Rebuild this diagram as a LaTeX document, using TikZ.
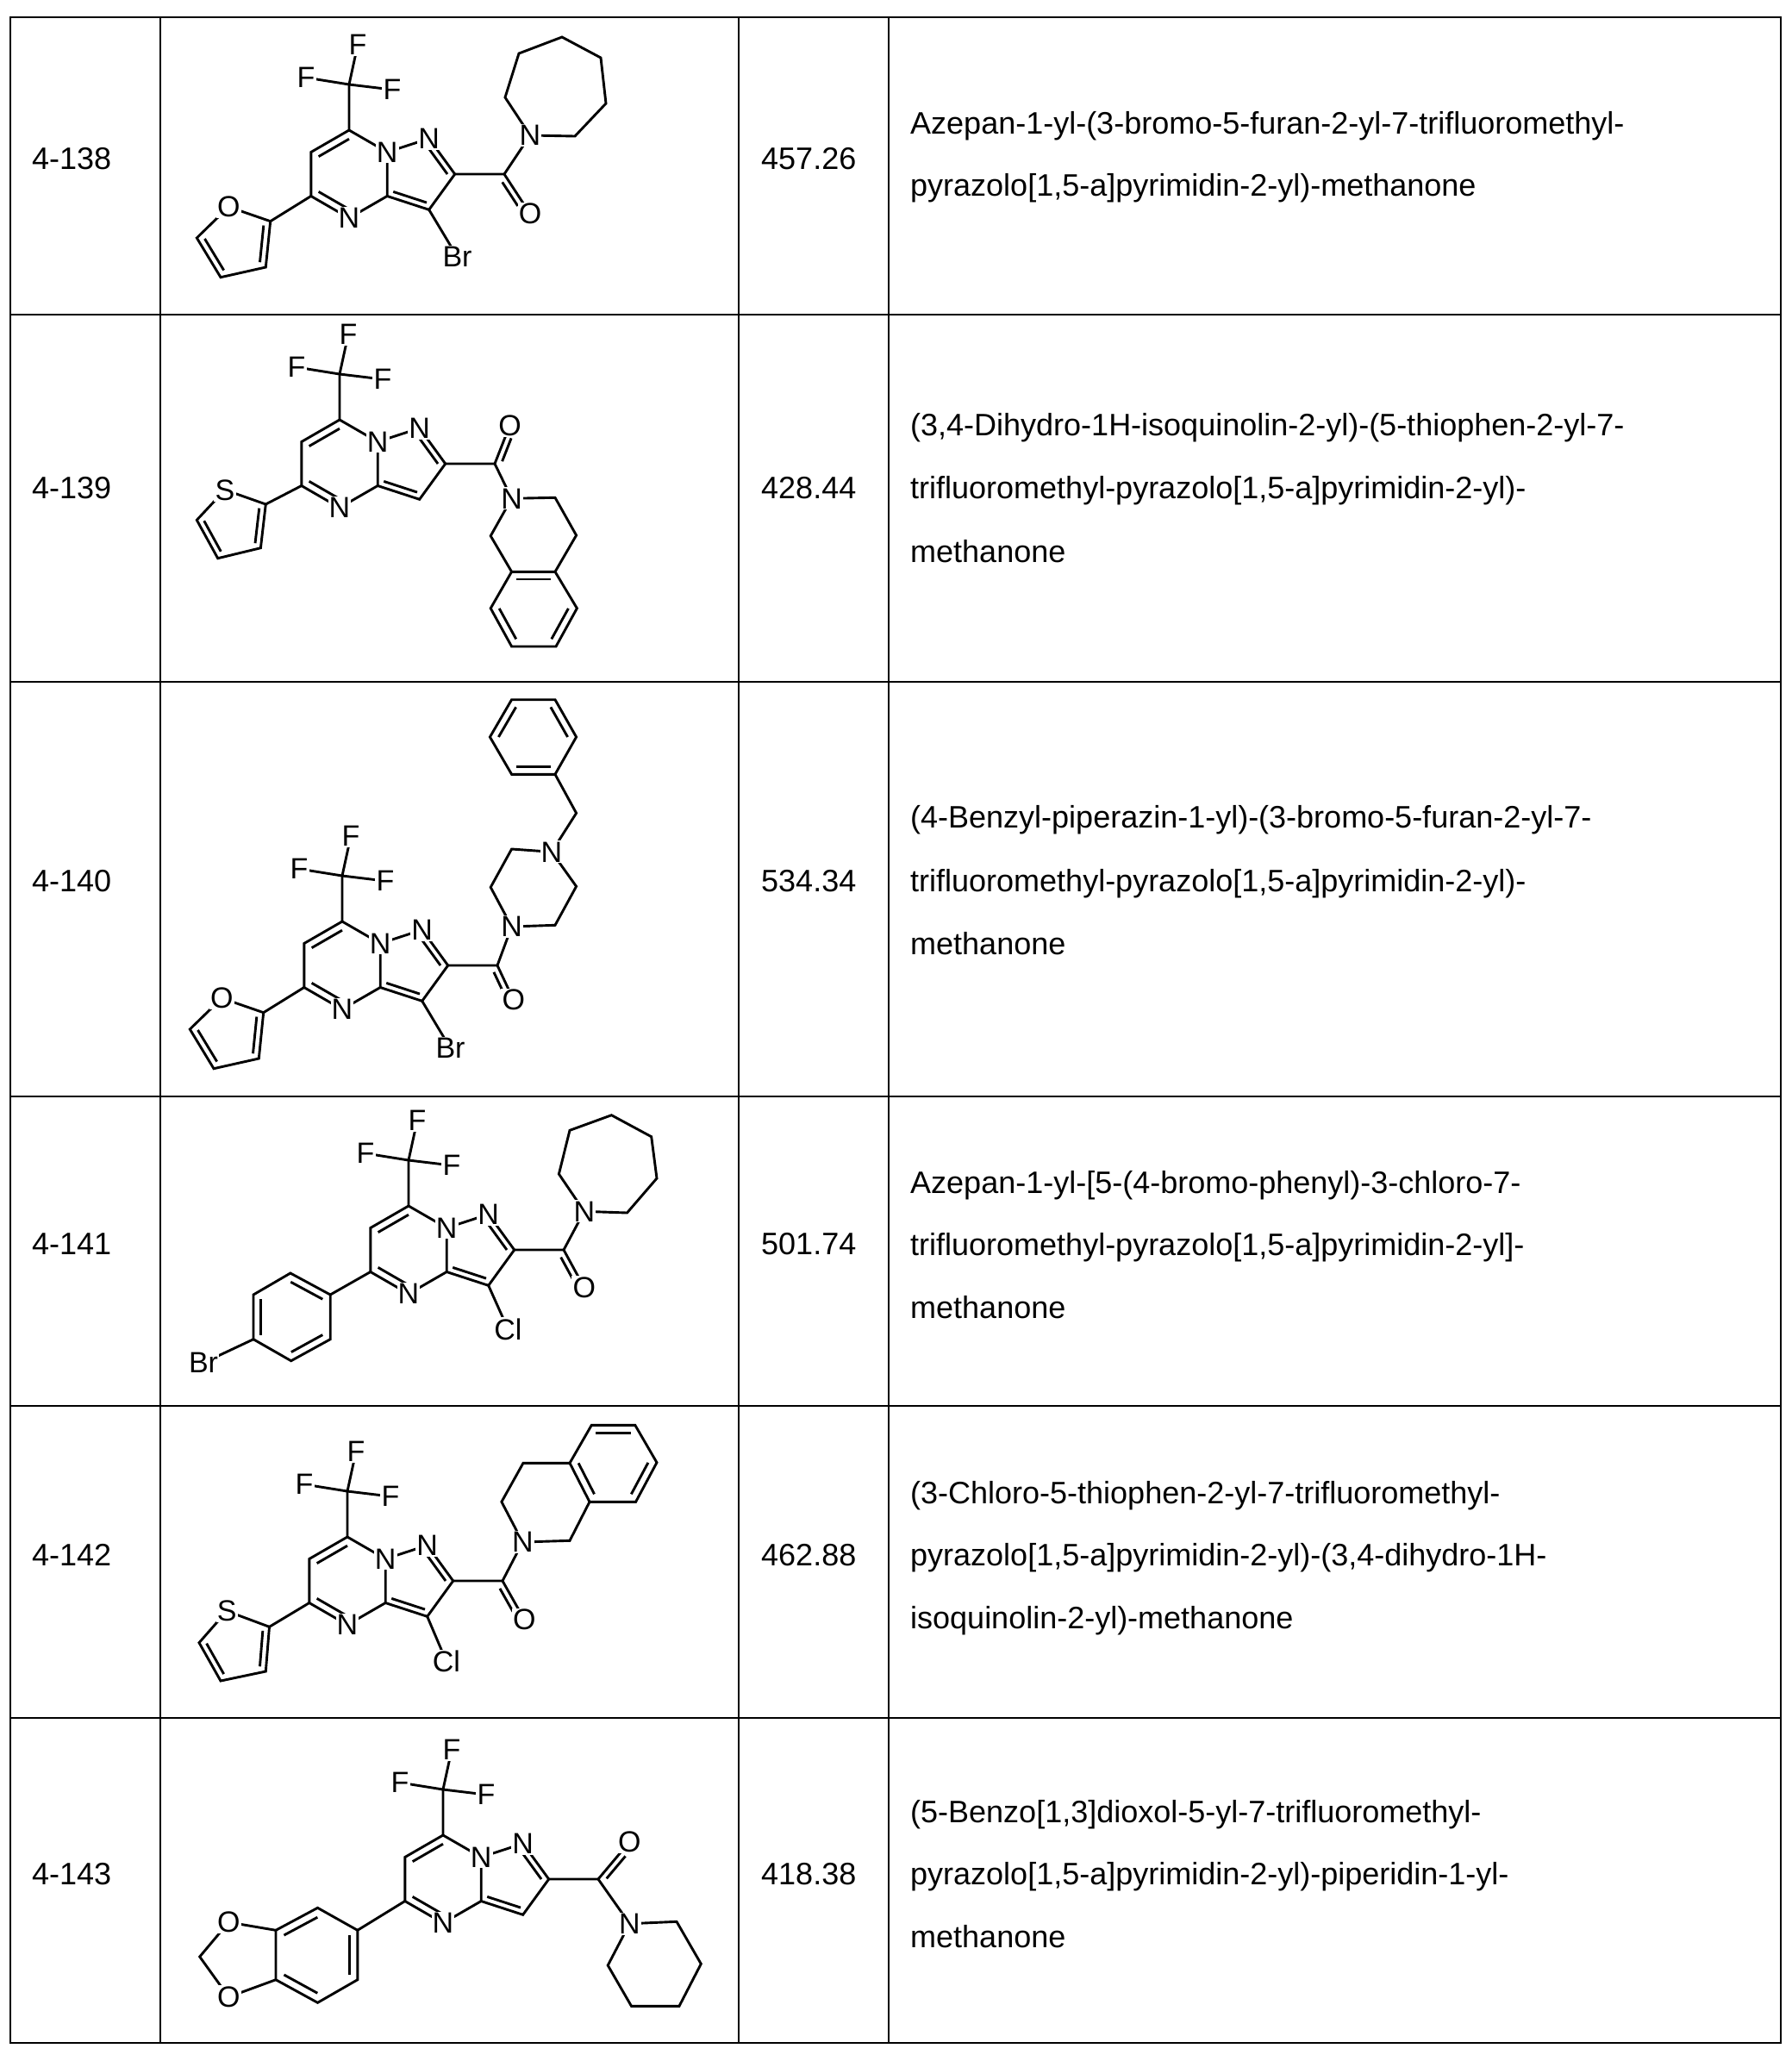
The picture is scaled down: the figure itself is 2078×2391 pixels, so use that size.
\documentclass[tikz,border=0pt]{standalone}
\usepackage{fontspec}
\setmainfont{Liberation Sans}
\usetikzlibrary{calc}
\tikzset{
  bond/.style={line width=2.9pt, line join=miter},
  tbl/.style={line width=2.6pt},
  atom/.style={fill=white, inner sep=1.2pt, font=\fontsize{34}{34}\selectfont},
  txt/.style={anchor=base west, inner sep=0pt, font=\fontsize{36}{36}\selectfont}
}
\newcommand\dbl[3]{\draw[bond] ($(#1)!0.2!(#3)$) -- ($(#2)!0.2!(#3)$);}
\newcommand\core[3]{%
  \coordinate (#1h) at (#2,#3);
  \path ($(#1h)+(0,-51)$) coordinate (#1c7)
        ($(#1h)+(44.2,-25.5)$) coordinate (#1n8)
        ($(#1h)+(44.2,25.5)$) coordinate (#1c3a)
        ($(#1h)+(0,51)$) coordinate (#1n4)
        ($(#1h)+(-44.2,25.5)$) coordinate (#1c5)
        ($(#1h)+(-44.2,-25.5)$) coordinate (#1c6)
        ($(#1h)+(79.3,0)$) coordinate (#1p)
        ($(#1h)+(92.7,-41.3)$) coordinate (#1n2)
        ($(#1h)+(122.7,0)$) coordinate (#1c2)
        ($(#1h)+(92.7,41.3)$) coordinate (#1c3)
        ($(#1h)+(0,-104)$) coordinate (#1cf)
        ($(#1h)+(10,-150)$) coordinate (#1fa)
        ($(#1h)+(-50,-112)$) coordinate (#1fb)
        ($(#1h)+(50,-98)$) coordinate (#1fc)
        ($(#1h)+(180,0)$) coordinate (#1co);
  \draw[bond] (#1c7)--(#1n8)--(#1c3a)--(#1n4)--(#1c5)--(#1c6)--cycle;
  \draw[bond] (#1n8)--(#1n2)--(#1c2)--(#1c3)--(#1c3a);
  \dbl{#1c7}{#1c6}{#1h}\dbl{#1c5}{#1n4}{#1h}\dbl{#1n2}{#1c2}{#1p}\dbl{#1c3}{#1c3a}{#1p}
  \draw[bond] (#1c7)--(#1cf) (#1cf)--(#1fa) (#1cf)--(#1fb) (#1cf)--(#1fc) (#1c2)--(#1co);
  \node[atom] (#1N8) at (#1n8) {N};
  \node[atom] (#1N2) at (#1n2) {N};
  \node[atom] (#1N4) at (#1n4) {N};
  \node[atom] (#1Fa) at (#1fa) {F};
  \node[atom] (#1Fb) at (#1fb) {F};
  \node[atom] (#1Fc) at (#1fc) {F};
}
\newcommand\fivering[7]{%
  \path ($(#1h)+(#2)$) coordinate (#1qa) ($(#1h)+(#3)$) coordinate (#1qb)
        ($(#1h)+(#4)$) coordinate (#1qd) ($(#1h)+(#5)$) coordinate (#1qe)
        ($(#1h)+(#6)$) coordinate (#1qf);
  \coordinate (#1qc) at (barycentric cs:#1qa=1,#1qb=1,#1qd=1,#1qe=1,#1qf=1);
  \draw[bond] (#1c5)--(#1qa);
  \draw[bond] (#1qa)--(#1qb)--(#1qd)--(#1qe)--(#1qf)--cycle;
  \dbl{#1qa}{#1qf}{#1qc}\dbl{#1qd}{#1qe}{#1qc}
  \node[atom] (#1het) at (#1qb) {#7};
}
\newcommand\carbonyl[3]{%
  \coordinate (#1o) at (#2); \coordinate (#1am) at (#3);
  \draw[bond] (#1co)--(#1o) (#1co)--(#1am);
  \path ($(#1co)!7pt!-90:(#1o)$) coordinate (#1r1) ($(#1o)!7pt!90:(#1co)$) coordinate (#1r2);
  \draw[bond] ($(#1r1)!0.12!(#1r2)$)--($(#1r1)!0.72!(#1r2)$);
  \node[atom] (#1O) at (#1o) {O};
  \node[atom] (#1N) at (#1am) {N};
}
\newcommand\halo[3]{%
  \draw[bond] (#1c3)--($(#1h)+(#2)$);
  \node[atom] (#1X) at ($(#1h)+(#2)$) {#3};
}
\begin{document}
\begin{tikzpicture}[x=1pt,y=-1pt]
\useasboundingbox (0,0) rectangle (2078,2391);
% table
\draw[tbl] (12,20) rectangle (2066,2370);
\foreach \x in {186,857,1031} \draw[tbl] (\x,20) -- (\x,2370);
\foreach \y in {365,791,1272,1631,1993} \draw[tbl] (12,\y) -- (2066,\y);
% ---------- 4-138
\core{a}{405}{202}
\fivering{a}{-91.3,54.7}{-139.7,38}{-176.7,74}{-149,119.7}{-96.7,108}{O}
\halo{a}{125.5,96}{Br}
\draw[bond] (615,157)--(667,158)--(703,120)--(697,67)--(652,43)--(602,62)--(586,113)--cycle;
\carbonyl{a}{615,248}{615,157}
% ---------- 4-139
\core{b}{394}{538}
\fivering{b}{-85.7,47}{-133,30.3}{-165.7,65.3}{-141.3,109.7}{-91.6,97.7}{S}
\coordinate (bk1) at (644,577.3); \coordinate (bk2) at (668.6,621);
\coordinate (bk3) at (644,663.3); \coordinate (bk4) at (593.6,663.3);
\coordinate (bk5) at (569.2,621.7); \coordinate (bk6) at (669.4,705.7);
\coordinate (bk7) at (645,750); \coordinate (bk8) at (593.6,750);
\coordinate (bk9) at (569.2,705.7); \coordinate (bkc) at (619.3,706.7);
\draw[bond] (593.6,578.3)--(bk1)--(bk2)--(bk3)--(bk4)--(bk5)--cycle;
\draw[bond] (bk3)--(bk6)--(bk7)--(bk8)--(bk9)--(bk4);
\dbl{bk3}{bk4}{bkc}\dbl{bk6}{bk7}{bkc}\dbl{bk8}{bk9}{bkc}
\carbonyl{b}{591.5,493.3}{593.6,578.3}
% ---------- 4-140
\core{c}{397}{1120}
\fivering{c}{-91.3,54.7}{-139.7,38}{-176.7,74}{-149,119.7}{-96.7,108}{O}
\halo{c}{125.5,96}{Br}
\coordinate (cb1) at (644,898.3); \coordinate (cb2) at (593.6,898.3);
\coordinate (cb3) at (568.4,855); \coordinate (cb4) at (593.6,811.7);
\coordinate (cb5) at (644,811.7); \coordinate (cb6) at (668.6,855);
\coordinate (cbc) at (618.5,855);
\draw[bond] (593.6,1075)--(644,1073.3)--(668.6,1028.3)--(640,988.3)--(593.6,985)--(569.2,1029.3)--cycle;
\draw[bond] (640,988.3)--(668.6,943.3)--(cb1);
\draw[bond] (cb1)--(cb2)--(cb3)--(cb4)--(cb5)--(cb6)--cycle;
\dbl{cb1}{cb2}{cbc}\dbl{cb3}{cb4}{cbc}\dbl{cb5}{cb6}{cbc}
\node[atom] (cN4) at (640,988.3) {N};
\carbonyl{c}{595.8,1160}{593.6,1075}
% ---------- 4-141
\core{d}{474}{1450}
\coordinate (da1) at (383.2,1502); \coordinate (da2) at (336.9,1477);
\coordinate (da3) at (294,1502); \coordinate (da4) at (294,1553.7);
\coordinate (da5) at (337.7,1578.7); \coordinate (da6) at (383.2,1553.7);
\coordinate (dac) at (338.6,1528);
\draw[bond] (dc5)--(da1);
\draw[bond] (da1)--(da2)--(da3)--(da4)--(da5)--(da6)--cycle;
\dbl{da1}{da2}{dac}\dbl{da3}{da4}{dac}\dbl{da5}{da6}{dac}
\draw[bond] (da4)--(236,1581);
\node[atom] (dBr) at (236,1581) {Br};
\halo{d}{115.4,92}{Cl}
\draw[bond] (677.8,1405.3)--(727.5,1407)--(762,1367)--(755.7,1318.7)--(709.4,1293.7)--(661,1311.3)--(648.4,1362)--cycle;
\carbonyl{d}{677.8,1493.7}{677.8,1405.3}
% ---------- 4-142
\core{e}{403}{1834}
\fivering{e}{-90.5,53.3}{-139.8,35}{-172,71.7}{-147,116}{-94.7,105}{S}
\halo{e}{114.8,93.3}{Cl}
\coordinate (ek1) at (581.9,1742.3); \coordinate (ek2) at (607,1697.3);
\coordinate (ek3) at (661,1697.3); \coordinate (ek4) at (684,1742.3);
\coordinate (ek5) at (661,1787.3); \coordinate (ek6) at (686.3,1653.3);
\coordinate (ek7) at (736.8,1653.3); \coordinate (ek8) at (762,1696.7);
\coordinate (ek9) at (737.6,1742.3); \coordinate (ekc) at (711.5,1697.5);
\draw[bond] (606.3,1789)--(ek1)--(ek2)--(ek3)--(ek4)--(ek5)--cycle;
\draw[bond] (ek3)--(ek6)--(ek7)--(ek8)--(ek9)--(ek4);
\dbl{ek3}{ek4}{ekc}\dbl{ek6}{ek7}{ekc}\dbl{ek8}{ek9}{ekc}
\carbonyl{e}{608.4,1879}{606.3,1789}
% ---------- 4-143
\core{f}{514}{2180}
\coordinate (fa1) at (414.8,2239.3); \coordinate (fa2) at (368.5,2213.3);
\coordinate (fa3) at (320,2239.3); \coordinate (fa4) at (320,2296.7);
\coordinate (fa5) at (368.5,2323.3); \coordinate (fa6) at (414.8,2296.7);
\coordinate (fac) at (367.4,2268);
\coordinate (fo1) at (265.3,2230); \coordinate (fo2) at (265.3,2316.7);
\coordinate (fm) at (231.7,2270);
\draw[bond] (fc5)--(fa1);
\draw[bond] (fa1)--(fa2)--(fa3)--(fa4)--(fa5)--(fa6)--cycle;
\dbl{fa2}{fa3}{fac}\dbl{fa4}{fa5}{fac}\dbl{fa6}{fa1}{fac}
\draw[bond] (fa3)--(fo1)--(fm)--(fo2)--(fa4);
\node[atom] (fO1) at (fo1) {O};
\node[atom] (fO2) at (fo2) {O};
\draw[bond] (730.4,2231.7)--(785,2229.3)--(813.3,2278.3)--(788,2327.3)--(732.5,2327.3)--(705.2,2280)--cycle;
\carbonyl{f}{730.4,2136.7}{730.4,2231.7}
% ---------- texts
\node[txt] (id1) at (37,196) {4-138};
\node[txt] (id2) at (37,578) {4-139};
\node[txt] (id3) at (37,1034) {4-140};
\node[txt] (id4) at (37,1455) {4-141};
\node[txt] (id5) at (37,1816) {4-142};
\node[txt] (id6) at (37,2186) {4-143};
\node[txt] (mw1) at (883,196) {457.26};
\node[txt] (mw2) at (883,578) {428.44};
\node[txt] (mw3) at (883,1034) {534.34};
\node[txt] (mw4) at (883,1455) {501.74};
\node[txt] (mw5) at (883,1816) {462.88};
\node[txt] (mw6) at (883,2186) {418.38};
\node[txt] (n1a) at (1056,155) {Azepan-1-yl-(3-bromo-5-furan-2-yl-7-trifluoromethyl-};
\node[txt] (n1b) at (1056,227) {pyrazolo[1,5-a]pyrimidin-2-yl)-methanone};
\node[txt] (n2a) at (1056,505) {(3,4-Dihydro-1H-isoquinolin-2-yl)-(5-thiophen-2-yl-7-};
\node[txt] (n2b) at (1056,578) {trifluoromethyl-pyrazolo[1,5-a]pyrimidin-2-yl)-};
\node[txt] (n2c) at (1056,652) {methanone};
\node[txt] (n3a) at (1056,960) {(4-Benzyl-piperazin-1-yl)-(3-bromo-5-furan-2-yl-7-};
\node[txt] (n3b) at (1056,1034) {trifluoromethyl-pyrazolo[1,5-a]pyrimidin-2-yl)-};
\node[txt] (n3c) at (1056,1107) {methanone};
\node[txt] (n4a) at (1056,1384) {Azepan-1-yl-[5-(4-bromo-phenyl)-3-chloro-7-};
\node[txt] (n4b) at (1056,1456) {trifluoromethyl-pyrazolo[1,5-a]pyrimidin-2-yl]-};
\node[txt] (n4c) at (1056,1529) {methanone};
\node[txt] (n5a) at (1056,1744) {(3-Chloro-5-thiophen-2-yl-7-trifluoromethyl-};
\node[txt] (n5b) at (1056,1816) {pyrazolo[1,5-a]pyrimidin-2-yl)-(3,4-dihydro-1H-};
\node[txt] (n5c) at (1056,1889) {isoquinolin-2-yl)-methanone};
\node[txt] (n6a) at (1056,2114) {(5-Benzo[1,3]dioxol-5-yl-7-trifluoromethyl-};
\node[txt] (n6b) at (1056,2186) {pyrazolo[1,5-a]pyrimidin-2-yl)-piperidin-1-yl-};
\node[txt] (n6c) at (1056,2259) {methanone};
\end{tikzpicture}
\end{document}
